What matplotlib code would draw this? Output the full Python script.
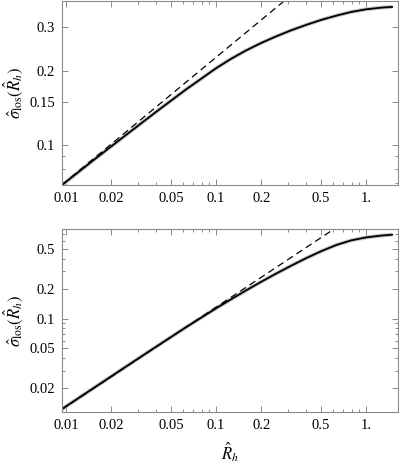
import numpy as np
import matplotlib
matplotlib.use("Agg")
import matplotlib.pyplot as plt
from matplotlib.ticker import FixedLocator, FixedFormatter, NullFormatter

plt.rcParams['font.family'] = ['Liberation Serif', 'DejaVu Serif']
plt.rcParams['mathtext.fontset'] = 'stix'

# top panel: sigma_los vs R_h
r_top = [0.0094, 0.01585, 0.02512, 0.03981, 0.0631, 0.1, 0.1259, 0.1585, 0.1995,
         0.2512, 0.3162, 0.3981, 0.5012, 0.631, 0.7943, 1.0, 1.259, 1.49]
s_top = [0.0689, 0.0885, 0.1099, 0.1362, 0.1680, 0.2047, 0.2235, 0.2416, 0.2589,
         0.2754, 0.2914, 0.3065, 0.3210, 0.3340, 0.3458, 0.3545, 0.3600, 0.3625]
r_top_dash = [0.0094, 0.5]
s_top_dash = [0.0690, 0.509]

# bottom panel
r_bot = [0.0094, 0.02512, 0.03981, 0.0631, 0.1, 0.1259, 0.1585, 0.1995, 0.2512,
         0.3162, 0.3981, 0.5012, 0.631, 0.7943, 1.0, 1.259, 1.49]
s_bot = [0.0123, 0.03289, 0.0520, 0.0818, 0.1268, 0.1563, 0.1919, 0.2339, 0.2831,
         0.3396, 0.4046, 0.4753, 0.5483, 0.6109, 0.6546, 0.6823, 0.6966]
r_bot_dash = [0.0094, 1.0]
s_bot_dash = [0.01222, 1.3]

x_ticks = [0.01, 0.02, 0.05, 0.1, 0.2, 0.5, 1.0]
x_labels = ['0.01', '0.02', '0.05', '0.1', '0.2', '0.5', '1.']
y_ticks_top = [0.1, 0.15, 0.2, 0.3]
y_labels_top = ['0.1', '0.15', '0.2', '0.3']
y_ticks_bot = [0.02, 0.05, 0.1, 0.2, 0.5]
y_labels_bot = ['0.02', '0.05', '0.1', '0.2', '0.5']

fig = plt.figure(figsize=(3.99, 4.65), dpi=100)
ax1 = fig.add_axes([62/399, 1-185/465, 336/399, 184/465])
ax2 = fig.add_axes([62/399, 1-412/465, 336/399, 183/465])

frame_col = '#8a8a8a'


def style(ax, yt, yl, ylim):
    ax.set_xscale('log')
    ax.set_yscale('log')
    ax.set_xlim(0.0094, 1.63)
    ax.set_ylim(*ylim)
    ax.xaxis.set_major_locator(FixedLocator(x_ticks))
    ax.xaxis.set_major_formatter(FixedFormatter(x_labels))
    ax.xaxis.set_minor_formatter(NullFormatter())
    ax.yaxis.set_major_locator(FixedLocator(yt))
    ax.yaxis.set_major_formatter(FixedFormatter(yl))
    ax.yaxis.set_minor_formatter(NullFormatter())
    ax.tick_params(which='both', direction='in', top=True, right=True,
                   color=frame_col, labelsize=10.5, width=0.7)
    ax.tick_params(which='major', length=4, pad=5)
    ax.tick_params(which='minor', length=2)
    for sp in ax.spines.values():
        sp.set_color(frame_col)
        sp.set_linewidth(0.8)


for ax, r, s, rd, sd in [(ax1, r_top, s_top, r_top_dash, s_top_dash),
                         (ax2, r_bot, s_bot, r_bot_dash, s_bot_dash)]:
    ax.plot(r, s, color='#c4c4c4', lw=2.8, solid_capstyle='butt', solid_joinstyle='round')
    ax.plot(r, s, color='black', lw=1.3, solid_joinstyle='round')
    ax.plot(rd, sd, color='black', lw=0.9, dashes=(5.5, 3.5))

style(ax1, y_ticks_top, y_labels_top, (0.0689, 0.383))
style(ax2, y_ticks_bot, y_labels_bot, (0.01148, 0.795))

ax1.set_ylabel(r'$\hat{\sigma}_{\rm los}(\hat{R}_h)$', fontsize=12, labelpad=3)
ax2.set_ylabel(r'$\hat{\sigma}_{\rm los}(\hat{R}_h)$', fontsize=12, labelpad=3)
ax2.set_xlabel(r'$\hat{R}_h$', fontsize=12, labelpad=6)

fig.savefig('out.png', dpi=100)
